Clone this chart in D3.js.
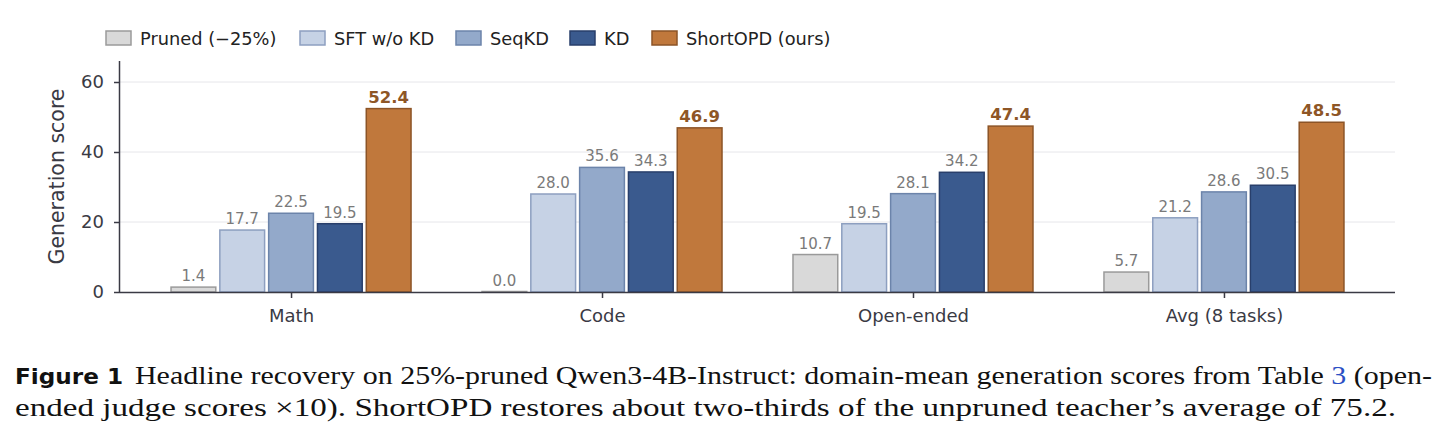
<!DOCTYPE html>
<html>
<head>
<meta charset="utf-8">
<script src="https://cdn.jsdelivr.net/npm/d3@7.9.0/dist/d3.min.js"></script>
<style>
  body { margin: 0; background: #fff; }
  svg { display: block; }
</style>
</head>
<body>
<div id="chart"></div>
<script>
// Data
const categories = ["Math", "Code", "Open-ended", "Avg (8 tasks)"];
const seriesNames = ["Pruned (\u221225%)", "SFT w/o KD", "SeqKD", "KD", "ShortOPD (ours)"];
const pruned   = [1.4, 0.0, 10.7, 5.7];
const sftNoKd  = [17.7, 28.0, 19.5, 21.2];
const seqKd    = [22.5, 35.6, 28.1, 28.6];
const kd       = [19.5, 34.3, 34.2, 30.5];
const shortOpd = [52.4, 46.9, 47.4, 48.5];
const yTicks = [0, 20, 40, 60];

const seriesValues = [pruned, sftNoKd, seqKd, kd, shortOpd];
const fills   = ["#d9d9d9", "#c6d2e5", "#93a9ca", "#3a5a8e", "#c0783c"];
const strokes = ["#9a9a9a", "#8d9fc0", "#6c84aa", "#293f6b", "#8c5427"];

const W = 1447, H = 439;
const plot = {left: 120, right: 1395, top: 61, bottom: 292};
const font = "DejaVu Sans, sans-serif";

const svg = d3.select("#chart").append("svg")
    .attr("width", W)
    .attr("height", H);

// Scales
const x = d3.scalePoint()
    .domain(categories)
    .range([plot.left, plot.right])
    .padding(0.55);

const xs = d3.scaleBand()
    .domain(d3.range(seriesNames.length))
    .range([-120, 120])
    .paddingInner(0.083);

const y = d3.scaleLinear()
    .domain([0, 66])
    .range([plot.bottom, plot.top]);

// Gridlines
svg.append("g")
    .selectAll("line")
    .data(yTicks.filter(d => d > 0))
    .join("line")
    .attr("x1", plot.left)
    .attr("x2", plot.right)
    .attr("y1", d => y(d))
    .attr("y2", d => y(d))
    .attr("stroke", "#e6e6ea")
    .attr("stroke-width", 1);

// Bars
const rows = [];
seriesValues.forEach((vals, si) => {
    vals.forEach((v, ci) => rows.push({si, cat: categories[ci], v}));
});

svg.append("g")
    .selectAll("rect")
    .data(rows)
    .join("rect")
    .attr("x", d => x(d.cat) + xs(d.si))
    .attr("y", d => Math.min(y(d.v), y(0) - 0.5))
    .attr("width", xs.bandwidth())
    .attr("height", d => Math.max(0.5, y(0) - y(d.v)))
    .attr("fill", d => fills[d.si])
    .attr("stroke", d => strokes[d.si])
    .attr("stroke-width", 1.5);

// Value labels
svg.append("g")
    .selectAll("text")
    .data(rows)
    .join("text")
    .attr("x", d => x(d.cat) + xs(d.si) + xs.bandwidth() / 2)
    .attr("y", d => y(d.v) - 6)
    .attr("text-anchor", "middle")
    .attr("font-family", font)
    .attr("font-size", d => d.si === 4 ? 16.5 : 15)
    .attr("font-weight", d => d.si === 4 ? "bold" : "normal")
    .attr("fill", d => d.si === 4 ? "#8e5626" : "#7a7a7a")
    .text(d => d.v.toFixed(1));

// X axis
const xAxis = svg.append("g")
    .attr("transform", `translate(0,${plot.bottom})`)
    .call(d3.axisBottom(x).tickSize(6).tickPadding(11));
xAxis.select(".domain")
    .attr("d", `M${plot.left},0.5H${plot.right}`)
    .attr("stroke", "#3a3a44")
    .attr("stroke-width", 1.5);
xAxis.selectAll(".tick line").attr("stroke", "#3a3a44").attr("stroke-width", 1.5);
xAxis.selectAll(".tick text")
    .attr("font-family", font)
    .attr("font-size", 18)
    .attr("fill", "#3a3a44");

// Y axis
const yAxis = svg.append("g")
    .attr("transform", `translate(${plot.left},0)`)
    .call(d3.axisLeft(y).tickValues(yTicks).tickSize(6).tickPadding(10));
yAxis.select(".domain")
    .attr("d", `M-0.5,${plot.top}V${plot.bottom}`)
    .attr("stroke", "#3a3a44")
    .attr("stroke-width", 1.5);
yAxis.selectAll(".tick line").attr("stroke", "#3a3a44").attr("stroke-width", 1.5);
yAxis.selectAll(".tick text")
    .attr("font-family", font)
    .attr("font-size", 18)
    .attr("fill", "#3a3a44");

svg.append("text")
    .attr("transform", `translate(64,${(plot.top + plot.bottom) / 2}) rotate(-90)`)
    .attr("text-anchor", "middle")
    .attr("font-family", font)
    .attr("font-size", 20.5)
    .attr("fill", "#3a3a44")
    .text("Generation score");

// Legend
const legendX = [106, 300, 456, 570, 652];
const legend = svg.append("g")
    .selectAll("g")
    .data(seriesNames)
    .join("g")
    .attr("transform", (d, i) => `translate(${legendX[i]},31)`);
legend.append("rect")
    .attr("width", 25)
    .attr("height", 14)
    .attr("fill", (d, i) => fills[i])
    .attr("stroke", (d, i) => strokes[i])
    .attr("stroke-width", 1.5);
legend.append("text")
    .attr("x", 34)
    .attr("y", 14)
    .attr("font-family", font)
    .attr("font-size", 17.8)
    .attr("fill", "#222")
    .text(d => d);

// Caption
const cap = svg.append("g").attr("fill", "#111");
cap.append("text")
    .attr("x", 15)
    .attr("y", 384)
    .attr("font-family", font)
    .attr("font-weight", "bold")
    .attr("font-size", 21)
    .attr("textLength", 108)
    .attr("lengthAdjust", "spacingAndGlyphs")
    .text("Figure 1");

const line1 = cap.append("text")
    .attr("x", 135)
    .attr("y", 384)
    .attr("font-family", "Liberation Serif, serif")
    .attr("font-size", 24.5)
    .attr("textLength", 1297)
    .attr("lengthAdjust", "spacingAndGlyphs");
line1.append("tspan").text("Headline recovery on 25%-pruned Qwen3-4B-Instruct: domain-mean generation scores from Table ");
line1.append("tspan").attr("fill", "#2b4fc4").text("3");
line1.append("tspan").text(" (open-");

cap.append("text")
    .attr("x", 15)
    .attr("y", 416)
    .attr("font-family", "Liberation Serif, serif")
    .attr("font-size", 24.5)
    .attr("textLength", 1381)
    .attr("lengthAdjust", "spacingAndGlyphs")
    .text("ended judge scores \u00d710). ShortOPD restores about two-thirds of the unpruned teacher\u2019s average of 75.2.");
</script>
</body>
</html>
